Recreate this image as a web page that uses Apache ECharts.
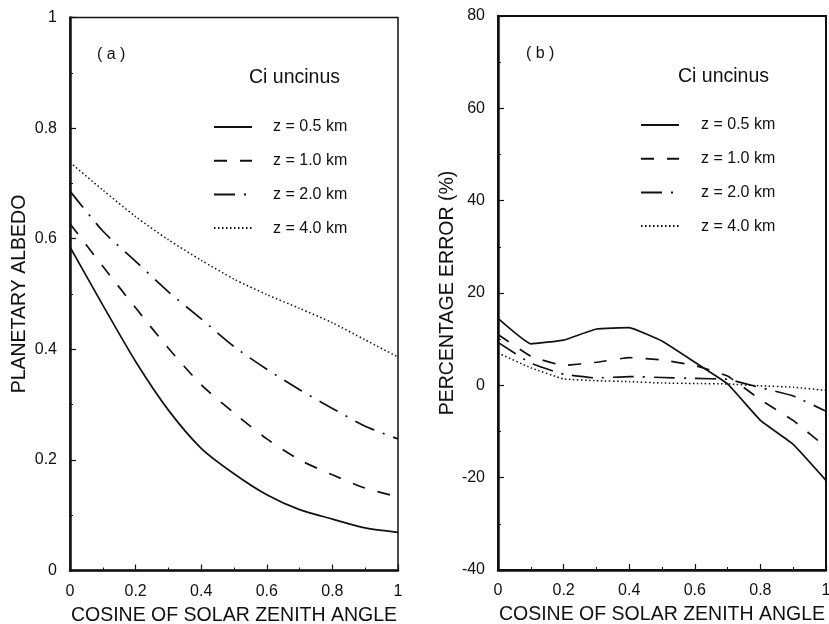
<!DOCTYPE html>
<html>
<head>
<meta charset="utf-8">
<script src="https://cdn.jsdelivr.net/npm/echarts@6/dist/echarts.min.js"></script>
<style>
html,body{margin:0;padding:0;background:#fff;}
#chart{width:829px;height:624px;}
</style>
</head>
<body>
<div id="chart"></div>
<script>
// ---- data ----
var cosZenith = [0, 0.1, 0.2, 0.3, 0.4, 0.5, 0.6, 0.7, 0.8, 0.9, 1.0];
var seriesNames = ['z = 0.5 km', 'z = 1.0 km', 'z = 2.0 km', 'z = 4.0 km'];

// (a) planetary albedo
var albedo05 = [0.585, 0.48, 0.378, 0.29, 0.221, 0.175, 0.137, 0.110, 0.093, 0.077, 0.069];
var albedo10 = [0.627, 0.55, 0.475, 0.402, 0.336, 0.285, 0.238, 0.200, 0.173, 0.149, 0.133];
var albedo20 = [0.686, 0.614, 0.559, 0.504, 0.455, 0.405, 0.364, 0.327, 0.293, 0.261, 0.238];
var albedo40 = [0.738, 0.688, 0.640, 0.598, 0.561, 0.527, 0.499, 0.474, 0.448, 0.417, 0.386];

// (b) percentage error
var error05 = [14.5, 9.0, 9.8, 12.2, 12.5, 9.6, 5.0, 0.3, -7.6, -12.8, -20.6];
var error10 = [11.0, 6.3, 4.3, 5.0, 6.0, 5.5, 4.3, 2.0, -3.1, -7.6, -13.4];
var error20 = [9.3, 4.8, 2.4, 1.6, 1.9, 1.7, 1.5, 1.3, -0.5, -2.3, -5.6];
var error40 = [7.0, 3.8, 1.4, 1.0, 0.8, 0.5, 0.4, 0.3, -0.1, -0.4, -1.1];

var xTicks = {min: 0, max: 1, interval: 0.2};
var albedoTicks = {min: 0, max: 1, interval: 0.2};
var errorTicks = {min: -40, max: 80, interval: 20};

// ---- styles ----
var FONT = 'Liberation Sans, Arial, Helvetica, sans-serif';
var dashStyles = ['solid', [13, 13], [21, 9, 2, 9], [1.5, 2.5]];
var widths = [1.7, 1.7, 1.7, 1.5];

function pairs(ys) { return cosZenith.map(function (x, i) { return [x, ys[i]]; }); }

function mkX(gi, t) {
  return {
    gridIndex: gi, type: 'value', min: t.min, max: t.max, interval: t.interval,
    name: 'COSINE OF SOLAR ZENITH ANGLE', nameLocation: 'middle', nameGap: 35,
    nameTextStyle: {fontFamily: FONT, fontSize: 19.5, color: '#111'},
    axisLine: {show: true, onZero: false, lineStyle: {color: '#111', width: 2.5}},
    axisTick: {show: true, inside: true, length: 6, lineStyle: {color: '#111', width: 1.2}},
    minorTick: {show: true, splitNumber: 2, length: 3, lineStyle: {color: '#111', width: 1}},
    axisLabel: {fontFamily: FONT, fontSize: 16, color: '#111', margin: 13},
    splitLine: {show: false}
  };
}
function mkY(gi, t, name, gap) {
  return {
    gridIndex: gi, type: 'value', min: t.min, max: t.max, interval: t.interval,
    name: name, nameLocation: 'middle', nameGap: gap,
    nameTextStyle: {fontFamily: FONT, fontSize: 19.5, color: '#111'},
    axisLine: {show: true, onZero: false, lineStyle: {color: '#111', width: 2.5}},
    axisTick: {show: true, inside: true, length: 6, lineStyle: {color: '#111', width: 1.2}},
    minorTick: {show: true, splitNumber: 2, length: 3, lineStyle: {color: '#111', width: 1}},
    axisLabel: {fontFamily: FONT, fontSize: 16, color: '#111', margin: 13},
    splitLine: {show: false}
  };
}
function mkSeries(gi, arrs, smooth) {
  return arrs.map(function (ys, k) {
    return {
      name: seriesNames[k], type: 'line', xAxisIndex: gi, yAxisIndex: gi,
      data: pairs(ys), symbol: 'none', smooth: smooth, silent: true, animation: false,
      color: '#111', itemStyle: {color: '#111'},
      lineStyle: {color: '#111', width: widths[k], type: dashStyles[k]}
    };
  });
}
function mkLegend(left, top, pad) {
  return {
    orient: 'vertical', left: left, top: top, padding: 0,
    itemWidth: 38, itemHeight: 14, itemGap: 17.7, selectedMode: false,
    data: seriesNames,
    itemStyle: {opacity: 0, borderWidth: 0},
    textStyle: {fontFamily: FONT, fontSize: 16, color: '#111', padding: [0, 0, 0, pad]}
  };
}

var chart = echarts.init(document.getElementById('chart'), null, {renderer: 'canvas'});
chart.setOption({
  backgroundColor: '#fff',
  animation: false,
  grid: [
    {left: 70, top: 17.5, width: 328, height: 553, show: true, borderColor: '#111', borderWidth: 1.5,
     containLabel: false, outerBoundsMode: 'none'},
    {left: 498, top: 16, width: 328, height: 554, show: true, borderColor: '#111', borderWidth: 2,
     containLabel: false, outerBoundsMode: 'none'}
  ],
  xAxis: [mkX(0, xTicks), mkX(1, xTicks)],
  yAxis: [mkY(0, albedoTicks, 'PLANETARY ALBEDO', 40), mkY(1, errorTicks, 'PERCENTAGE ERROR (%)', 37)],
  legend: [mkLegend(213, 119, 16), mkLegend(640, 117, 17)],
  series: mkSeries(0, [albedo05, albedo10, albedo20, albedo40], 0.25)
    .concat(mkSeries(1, [error05, error10, error20, error40], 0.1)),
  graphic: [
    {type: 'text', left: 97, top: 47, style: {text: '( a )', font: '16px ' + FONT, fill: '#111'}},
    {type: 'text', left: 249, top: 68, style: {text: 'Ci uncinus', font: '19.5px ' + FONT, fill: '#111'}},
    {type: 'text', left: 526, top: 46, style: {text: '( b )', font: '16px ' + FONT, fill: '#111'}},
    {type: 'text', left: 678, top: 67, style: {text: 'Ci uncinus', font: '19.5px ' + FONT, fill: '#111'}}
  ]
});
</script>
</body>
</html>
